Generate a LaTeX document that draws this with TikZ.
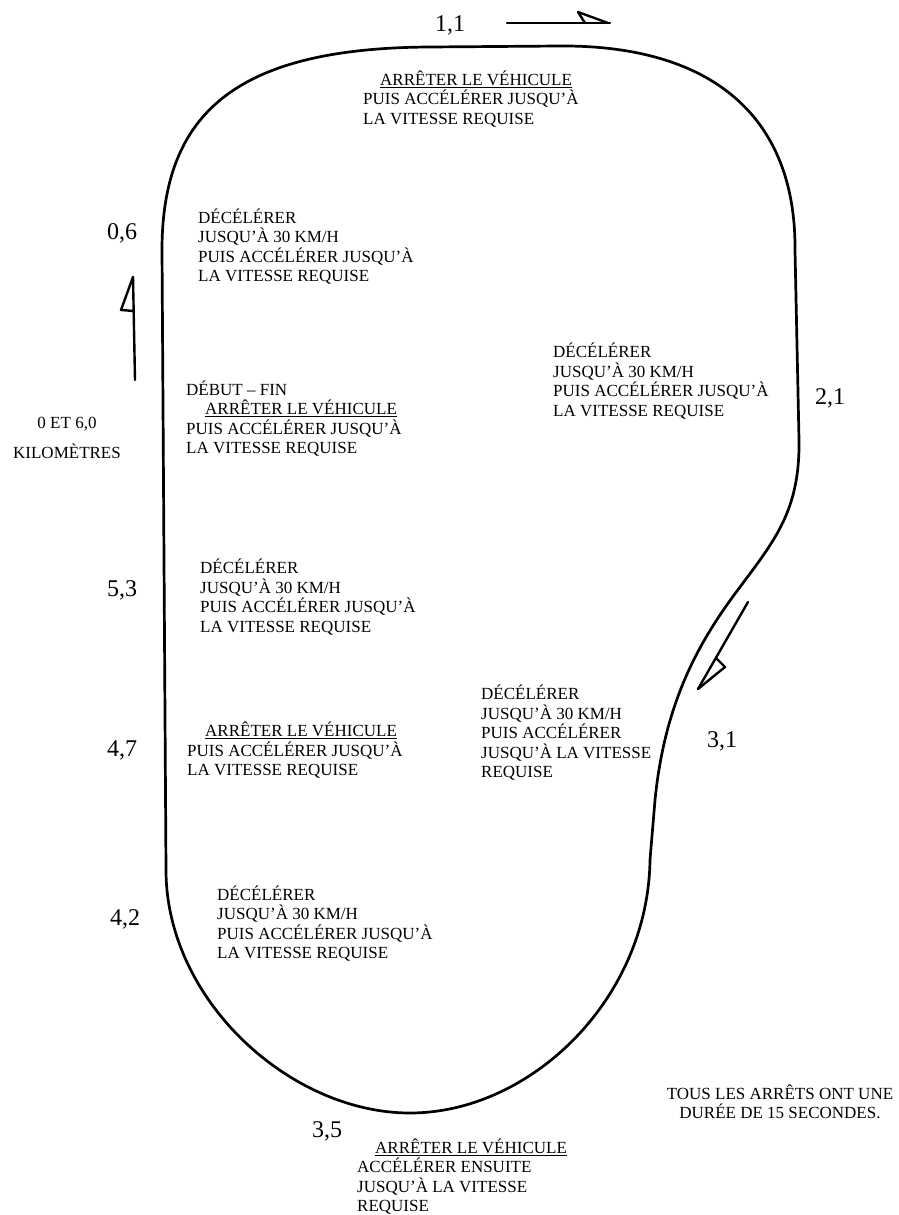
\documentclass[tikz,border=0pt]{standalone}
\usepackage{fontspec}
\setmainfont{Liberation Serif}
\newcommand\fl{\rule{0pt}{16pt}}
\begin{document}
\begin{tikzpicture}[x=1pt,y=-1pt,
  lbl/.style={anchor=north west, inner sep=0pt, align=left, font=\fontsize{17}{19.5}\selectfont},
  lblc/.style={anchor=north, inner sep=0pt, align=center, font=\fontsize{17}{19.5}\selectfont},
  num/.style={anchor=base west, inner sep=0pt, font=\fontsize{24}{28}\selectfont},
  track/.style={line width=2.7pt, line join=round},
  arr/.style={line width=2.4pt, line join=round, line cap=round}]
\useasboundingbox[fill=white] (0,0) rectangle (898,1215);

% track
\draw[track] (162,250) .. controls (162,110) and (240,48) .. (430,47)
  -- (560,46)
  .. controls (710,45) and (796,115) .. (795,250)
  -- (799,440)
  .. controls (800,510) and (775,540) .. (740,587)
  .. controls (700,640) and (665,700) .. (655,800)
  -- (650,860)
  .. controls (648,1000) and (530,1113) .. (410,1113)
  .. controls (290,1113) and (166,1000) .. (166,870)
  -- cycle;

% direction arrows
\coordinate (a1s) at (507,23); \coordinate (a1e) at (610,23);
\draw[arr] (a1s) -- (a1e);
\draw[arr] (585,23) -- (578,12) -- (608,23);
\coordinate (a2s) at (135,380); \coordinate (a2e) at (133,277);
\draw[arr] (a2s) -- (a2e);
\draw[arr] (a2e) -- (121,310) -- (134,311);
\coordinate (a3s) at (748,602); \coordinate (a3e) at (698,689);
\draw[arr] (a3s) -- (a3e);
\draw[arr] (717,659) -- (725,667) -- (a3e);

% kilometre marks
\node[num] (k11) at (435,32) {1,1};
\node[num] (k06) at (107,239) {0,6};
\node[num] (k21) at (815,404) {2,1};
\node[num] (k53) at (107,596) {5,3};
\node[num] (k47) at (107,756) {4,7};
\node[num] (k31) at (707,747) {3,1};
\node[num] (k42) at (110,925) {4,2};
\node[num] (k35) at (312,1137) {3,5};

% instructions
\node[lbl] (t11) at (363,69) {\fl\hspace{17pt}\underline{ARRÊTER LE VÉHICULE}\\PUIS ACCÉLÉRER JUSQU’À\\LA VITESSE REQUISE};
\node[lbl] (t06) at (198,207) {\fl DÉCÉLÉRER\\JUSQU’À 30 KM/H\\PUIS ACCÉLÉRER JUSQU’À\\LA VITESSE REQUISE};
\node[lbl] (t21) at (553,341.5) {\fl DÉCÉLÉRER\\JUSQU’À 30 KM/H\\PUIS ACCÉLÉRER JUSQU’À\\LA VITESSE REQUISE};
\node[lbl] (t00) at (186,379) {\fl DÉBUT – FIN\\\hspace{19pt}\underline{ARRÊTER LE VÉHICULE}\\PUIS ACCÉLÉRER JUSQU’À\\LA VITESSE REQUISE};
\node[lbl] (t53) at (200,557.5) {\fl DÉCÉLÉRER\\JUSQU’À 30 KM/H\\PUIS ACCÉLÉRER JUSQU’À\\LA VITESSE REQUISE};
\node[lbl] (t47) at (187,720.5) {\fl\hspace{18pt}\underline{ARRÊTER LE VÉHICULE}\\PUIS ACCÉLÉRER JUSQU’À\\LA VITESSE REQUISE};
\node[lbl] (t31) at (481,683.5) {\fl DÉCÉLÉRER\\JUSQU’À 30 KM/H\\PUIS ACCÉLÉRER\\JUSQU’À LA VITESSE\\REQUISE};
\node[lbl] (t42) at (217,884) {\fl DÉCÉLÉRER\\JUSQU’À 30 KM/H\\PUIS ACCÉLÉRER JUSQU’À\\LA VITESSE REQUISE};
\node[lbl] (t35) at (357,1137) {\fl\hspace{18pt}\underline{ARRÊTER LE VÉHICULE}\\ACCÉLÉRER ENSUITE\\JUSQU’À LA VITESSE\\REQUISE};
\node[lblc] (note) at (780,1083) {\fl TOUS LES ARRÊTS ONT UNE\\DURÉE DE 15 SECONDES.};
\node[lblc, font=\fontsize{17}{30}\selectfont] (km) at (67,412) {\fl 0 ET 6,0\\KILOMÈTRES};
\end{tikzpicture}
\end{document}
